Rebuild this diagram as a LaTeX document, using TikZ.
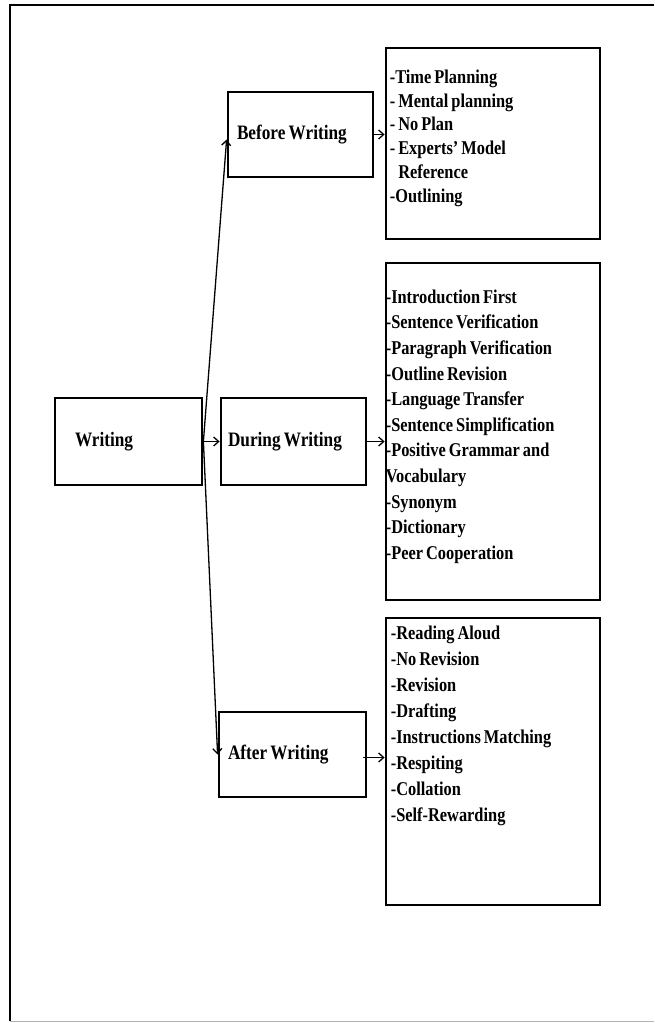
\documentclass[tikz,border=0pt]{standalone}
\usepackage{fontspec}
\setmainfont{Liberation Serif}
\newfontfamily\condserif[FakeStretch=0.84,WordSpace=0.75,Ligatures=TeX]{Liberation Serif}
\usetikzlibrary{arrows.meta,calc}
\begin{document}
\begin{tikzpicture}[x=1pt,y=-1pt,
  lbl/.style={draw,line width=2.8pt,align=flush left,font=\condserif\bfseries\fontsize{20.5}{22}\selectfont},
  lst/.style={draw,line width=2.8pt,inner sep=0pt},
  lsttext/.style={anchor=north west,inner sep=0pt,align=left,font=\condserif\bfseries\fontsize{19.5}{#1}\selectfont},
  arr/.style={line width=1.3pt,-{Straight Barb[length=5pt,width=9pt]}}]
\useasboundingbox (0,0) rectangle (654,1023);
% outer frame
\draw[line width=2.8pt] (10,1021) -- (10,5) -- (654,5);
\draw[black!30,line width=1pt] (10,1021) -- (654,1021);
% label boxes
\node[lbl,minimum height=87pt,text width=107pt,inner xsep=20pt] (writing) at (128.5,441.5) {\raisebox{4pt}{Writing}};
\node[lbl,minimum height=85pt,text width=127pt,inner xsep=9pt] (before) at (300.5,134.5) {Before Writing};
\node[lbl,minimum height=87pt,text width=131pt,inner xsep=7pt] (during) at (293.5,441.5) {During Writing};
\node[lbl,minimum height=85pt,text width=129pt,inner xsep=9pt] (after) at (292.5,754.5) {After Writing};
% list boxes
\node[lst,minimum width=214pt,minimum height=191pt] (blist) at (493,143.5) {};
\node[lst,minimum width=214pt,minimum height=337pt] (dlist) at (493,431.5) {};
\node[lst,minimum width=214pt,minimum height=287pt] (alist) at (493,761.5) {};
\node[lsttext=23.8] (btext) at ($(blist.north west)+(5,23)$) {-Time Planning\\- Mental planning\\- No Plan\\- Experts’ Model\\\hphantom{- }Reference\\-Outlining};
\node[lsttext=25.6] (dtext) at ($(dlist.north west)+(1,28)$) {-Introduction First\\-Sentence Verification\\-Paragraph Verification\\-Outline Revision\\-Language Transfer\\-Sentence Simplification\\-Positive Grammar and\\Vocabulary\\-Synonym\\-Dictionary\\-Peer Cooperation};
\node[lsttext=26] (atext) at ($(alist.north west)+(6,9)$) {-Reading Aloud\\-No Revision\\-Revision\\-Drafting\\-Instructions Matching\\-Respiting\\-Collation\\-Self-Rewarding};
% connectors
\draw[arr] (writing.east) -- ($(before.west)+(0,5)$);
\draw[arr] (writing.east) -- (during.west);
\draw[arr] (writing.east) -- (after.west);
\draw[arr] (before.east) -- (before.east -| blist.west);
\draw[arr] (during.east) -- (during.east -| dlist.west);
\draw[arr] ($(after.east)+(-4,3)$) -- ($(after.east -| alist.west)+(0,3)$);
\end{tikzpicture}
\end{document}
